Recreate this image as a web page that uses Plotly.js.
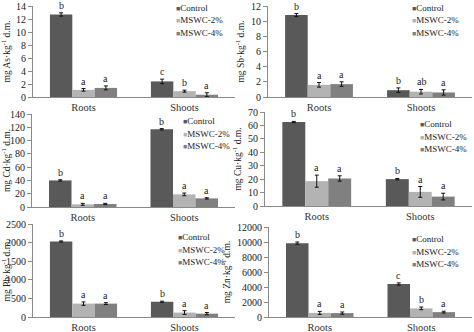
<!DOCTYPE html>
<html><head><meta charset="utf-8">
<script src="https://cdn.plot.ly/plotly-3.0.1.min.js"></script>
<style>html,body{margin:0;padding:0;background:#fff}#chart{width:474px;height:332px}</style>
</head><body><div id="chart"></div>
<script>
// ---------- data ----------
const categories = ['Roots', 'Shoots'];
const seriesNames = ['Control', 'MSWC-2%', 'MSWC-4%'];
const elements = ['As', 'Sb', 'Cd', 'Cu', 'Pb', 'Zn'];

// means per series: [Roots, Shoots]
const asMeans   = [[12.7, 2.4], [1.1, 0.9], [1.4, 0.35]];
const asErrors  = [[0.25, 0.35], [0.2, 0.15], [0.3, 0.3]];
const asLetters = [['b', 'c'], ['a', 'b'], ['a', 'a']];

const sbMeans   = [[10.8, 0.9], [1.6, 0.7], [1.7, 0.6]];
const sbErrors  = [[0.2, 0.3], [0.3, 0.3], [0.3, 0.35]];
const sbLetters = [['b', 'b'], ['a', 'ab'], ['a', 'a']];

const cdMeans   = [[40, 117], [4, 19], [4.5, 13]];
const cdErrors  = [[1, 1], [1.5, 2], [1, 1]];
const cdLetters = [['b', 'b'], ['a', 'a'], ['a', 'a']];

const cuMeans   = [[62.5, 20], [18.5, 10.5], [20.5, 7]];
const cuErrors  = [[0.5, 0.5], [4.5, 4], [2, 2.5]];
const cuLetters = [['b', 'b'], ['a', 'a'], ['a', 'a']];

const pbMeans   = [[2030, 410], [360, 120], [360, 90]];
const pbErrors  = [[15, 15], [45, 50], [25, 30]];
const pbLetters = [['b', 'b'], ['a', 'a'], ['a', 'a']];

const znMeans   = [[9850, 4400], [550, 1150], [520, 650]];
const znErrors  = [[150, 150], [200, 180], [150, 120]];
const znLetters = [['b', 'c'], ['a', 'b'], ['a', 'a']];

const yMaxValues = [14, 12, 140, 70, 2500, 12000];
const yTickSteps = [2, 2, 20, 10, 500, 2000];

// ---------- styles / layout ----------
const seriesColors = ['#595959', '#b3b3b3', '#808080'];
const W = 474, H = 332;
const FONT = 'Liberation Serif';
const bargap = 0.335;

// plot boxes in px: [x0, x1, yTop, yBottom]
const boxes = [
  [33, 235, 6, 97],
  [268, 472, 6, 97],
  [32, 235, 114, 207],
  [265, 472, 112, 206],
  [33, 235, 224, 317],
  [269, 472, 227, 317]
];
// legend anchor (square left x, first row center y) in px
const legendPos = [
  [174, 8], [410, 8], [181, 121], [418, 124], [176, 237], [410, 239]
];
const legendRow = 12.5;

const allMeans = [asMeans, sbMeans, cdMeans, cuMeans, pbMeans, znMeans];
const allErrors = [asErrors, sbErrors, cdErrors, cuErrors, pbErrors, znErrors];
const allLetters = [asLetters, sbLetters, cdLetters, cuLetters, pbLetters, znLetters];

const traces = [];
const annotations = [];
const layout = {
  width: W, height: H,
  margin: {l: 0, r: 0, t: 0, b: 0},
  paper_bgcolor: '#fff', plot_bgcolor: '#fff',
  barmode: 'group', bargap: bargap, bargroupgap: 0,
  showlegend: false,
  font: {family: FONT, color: '#222', size: 10}
};

for (let p = 0; p < 6; p++) {
  const sfx = p === 0 ? '' : String(p + 1);
  const xa = 'x' + sfx, ya = 'y' + sfx;
  const b = boxes[p];
  layout['xaxis' + sfx] = {
    domain: [b[0] / W, b[1] / W],
    anchor: ya,
    type: 'category',
    showline: true, linecolor: '#8a8a8a', linewidth: 1,
    ticks: '',
    ticklabelstandoff: 0,
    showgrid: false, zeroline: false,
    tickfont: {family: FONT, size: 10.5, color: '#333', weight: 'normal'},
    fixedrange: true
  };
  // boundary tick marks between categories
  const ov = String(p + 7);
  layout['xaxis' + ov] = {
    domain: [b[0] / W, b[1] / W],
    anchor: ya, overlaying: xa,
    range: [-0.5, categories.length - 0.5],
    tickvals: [0.5, 1.5],
    showticklabels: false,
    ticks: 'outside', ticklen: 4, tickcolor: '#8a8a8a',
    showline: false, showgrid: false, zeroline: false,
    fixedrange: true
  };
  layout['yaxis' + sfx] = {
    domain: [1 - b[3] / H, 1 - b[2] / H],
    anchor: xa,
    range: [0, yMaxValues[p]],
    dtick: yTickSteps[p], tick0: 0,
    tickformat: 'd',
    showline: true, linecolor: '#8a8a8a', linewidth: 1,
    ticks: 'outside', ticklen: 4, tickcolor: '#8a8a8a',
    showgrid: false, zeroline: false,
    tickfont: {family: FONT, size: 10, color: '#222'},
    title: {text: 'mg ' + elements[p] + '·kg<sup>-1</sup> d.m.', font: {family: FONT, size: 9.5, color: '#222'}, standoff: 4},
    fixedrange: true
  };

  const domPx = b[1] - b[0];
  const barPx = domPx / categories.length * (1 - bargap) / seriesNames.length;

  for (let s = 0; s < seriesNames.length; s++) {
    traces.push({
      type: 'bar',
      name: seriesNames[s],
      x: categories,
      y: allMeans[p][s],
      xaxis: xa, yaxis: ya,
      marker: {color: seriesColors[s], line: {width: 0}},
      error_y: {type: 'data', array: allErrors[p][s], visible: true, color: '#111', thickness: 1, width: 2},
      hoverinfo: 'skip'
    });
    for (let c = 0; c < categories.length; c++) {
      annotations.push({
        xref: xa, yref: ya,
        x: categories[c],
        y: allMeans[p][s][c] + allErrors[p][s][c],
        xshift: (s - (seriesNames.length - 1) / 2) * barPx,
        yshift: 0,
        yanchor: 'bottom', xanchor: 'center',
        text: allLetters[p][s][c],
        showarrow: false,
        font: {family: FONT, size: 10, color: '#222'}
      });
    }
    // legend entry
    annotations.push({
      xref: 'paper', yref: 'paper',
      x: legendPos[p][0] / W,
      y: 1 - (legendPos[p][1] + s * legendRow) / H,
      xanchor: 'left', yanchor: 'middle',
      text: '<span style="color:' + seriesColors[s] + ';font-size:7px">■</span>' + seriesNames[s],
      showarrow: false,
      font: {family: FONT, size: 9, color: '#222'}
    });
  }
}
layout.annotations = annotations;

Plotly.newPlot('chart', traces, layout, {staticPlot: true, displayModeBar: false});
</script>
</body></html>
